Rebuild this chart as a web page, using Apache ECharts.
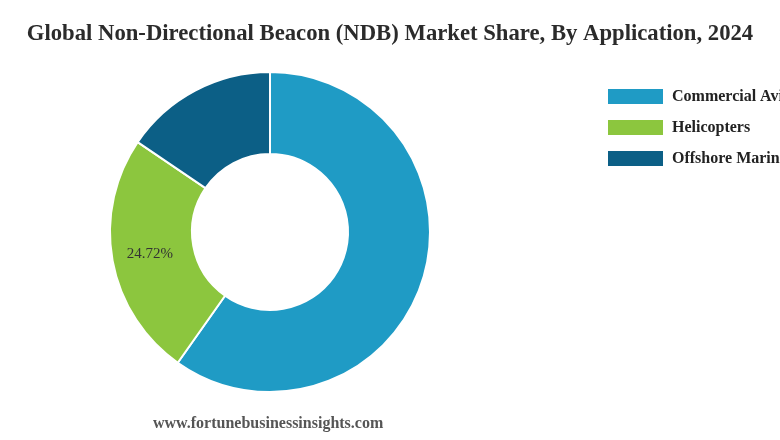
<!DOCTYPE html>
<html><head><meta charset="utf-8">
<script src="https://cdn.jsdelivr.net/npm/echarts@6/dist/echarts.min.js"></script>
<style>html,body{margin:0;padding:0;background:#fff}#c{width:780px;height:440px}</style>
</head><body><div id="c"></div>
<script>
var categories = ["Commercial Aviation", "Helicopters", "Offshore Marine"];
var values = [59.78, 24.72, 15.50];
var colors = ["#1f9bc5", "#8cc63e", "#0c5f86"];
var labelShown = [false, true, false];

var chart = echarts.init(document.getElementById('c'), null, {renderer: 'canvas'});
var data = categories.map(function (c, i) {
  return {
    name: c, value: values[i],
    itemStyle: {color: colors[i]},
    label: {show: labelShown[i]}
  };
});
chart.setOption({
  backgroundColor: '#ffffff',
  animation: false,
  title: {
    text: 'Global Non-Directional Beacon (NDB) Market Share, By Application, 2024',
    left: 'center', top: 23, padding: 0,
    textStyle: {fontFamily: 'Liberation Serif', fontWeight: 'bold', fontSize: 22.7, color: '#2b2b2b'}
  },
  legend: {
    orient: 'vertical', left: 606, top: 87, itemGap: 12, padding: 0,
    itemWidth: 57, itemHeight: 17,
    icon: 'rect',
    textStyle: {fontFamily: 'Liberation Serif', fontWeight: 'bold', fontSize: 16, lineHeight: 18, color: '#222', padding: [0,0,0,3]},
    data: categories
  },
  graphic: [{
    type: 'text', left: 153, top: 416,
    style: {text: 'www.fortunebusinessinsights.com', fill: '#555', font: 'bold 16px "Liberation Serif"'}
  }],
  series: [{
    type: 'pie',
    center: [270, 232],
    radius: [78, 160],
    startAngle: 90,
    clockwise: true,
    avoidLabelOverlap: false,
    itemStyle: {borderColor: '#fff', borderWidth: 2},
    label: {
      position: 'inside',
      formatter: function (p) { return p.value.toFixed(2) + '%'; },
      fontFamily: 'Liberation Serif', fontSize: 15, color: '#333'
    },
    labelLine: {show: false},
    emphasis: {disabled: true},
    data: data
  }]
});
</script></body></html>
